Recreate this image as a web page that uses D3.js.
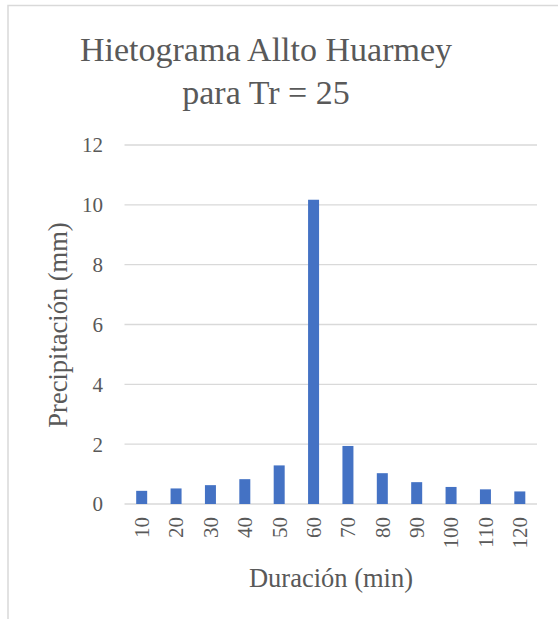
<!DOCTYPE html>
<html>
<head>
<meta charset="utf-8">
<script src="https://cdn.jsdelivr.net/npm/d3@7"></script>
<style>
  html, body { margin: 0; padding: 0; background: #ffffff; }
  svg { display: block; }
</style>
</head>
<body>
<svg id="chart" width="558" height="619"></svg>
<script>
// Hietograma: precipitation per 10-minute block
const duraciones = ["10", "20", "30", "40", "50", "60", "70", "80", "90", "100", "110", "120"];
const precipitacion = [0.44, 0.52, 0.63, 0.83, 1.29, 10.17, 1.94, 1.03, 0.73, 0.57, 0.49, 0.42];
const yTicks = [0, 2, 4, 6, 8, 10, 12];
const titleLines = ["Hietograma Allto Huarmey", "para Tr = 25"];
const xTitle = "Duración (min)";
const yTitle = "Precipitación (mm)";

const svg = d3.select("#chart");
const textColor = "#595959";
const serif = "Liberation Serif";

// chart frame (extends past the visible area on the right and bottom)
svg.append("rect")
  .attr("x", 8).attr("y", 5.5)
  .attr("width", 600).attr("height", 640)
  .attr("fill", "#ffffff")
  .attr("stroke", "#d9d9d9").attr("stroke-width", 1.5);

const plot = { left: 124.5, right: 537, top: 145, bottom: 504 };

const x = d3.scaleBand()
  .domain(duraciones)
  .range([plot.left, plot.right])
  .paddingInner(0.68)
  .paddingOuter(0.34);

const y = d3.scaleLinear()
  .domain([0, 12])
  .range([plot.bottom, plot.top]);

// gridlines
svg.append("g")
  .selectAll("line")
  .data(yTicks)
  .join("line")
  .attr("x1", plot.left).attr("x2", plot.right)
  .attr("y1", d => y(d)).attr("y2", d => y(d))
  .attr("stroke", "#d9d9d9").attr("stroke-width", 1.3);

// y tick labels
svg.append("g")
  .selectAll("text")
  .data(yTicks)
  .join("text")
  .attr("x", 103)
  .attr("y", d => y(d))
  .attr("dy", "0.35em")
  .attr("text-anchor", "end")
  .attr("font-family", serif)
  .attr("font-size", 21)
  .attr("fill", textColor)
  .text(d => d);

// bars
svg.append("g")
  .selectAll("rect")
  .data(precipitacion)
  .join("rect")
  .attr("x", (d, i) => x(duraciones[i]))
  .attr("width", x.bandwidth())
  .attr("y", d => y(d))
  .attr("height", d => y(0) - y(d))
  .attr("fill", "#4472c4");

// x tick labels, rotated
svg.append("g")
  .selectAll("text")
  .data(duraciones)
  .join("text")
  .attr("transform", d => `translate(${x(d) + x.bandwidth() / 2},517) rotate(-90)`)
  .attr("dy", "0.35em")
  .attr("text-anchor", "end")
  .attr("font-family", serif)
  .attr("font-size", 21)
  .attr("fill", textColor)
  .text(d => d);

// axis titles
svg.append("text")
  .attr("x", 331).attr("y", 587)
  .attr("text-anchor", "middle")
  .attr("font-family", serif)
  .attr("font-size", 26.5)
  .attr("fill", textColor)
  .text(xTitle);

svg.append("text")
  .attr("transform", "translate(67,325) rotate(-90)")
  .attr("text-anchor", "middle")
  .attr("font-family", serif)
  .attr("font-size", 26.5)
  .attr("fill", textColor)
  .text(yTitle);

// title
svg.append("text")
  .attr("text-anchor", "middle")
  .attr("font-family", serif)
  .attr("font-size", 34)
  .attr("fill", textColor)
  .selectAll("tspan")
  .data(titleLines)
  .join("tspan")
  .attr("x", 266)
  .attr("y", (d, i) => 61 + i * 43)
  .text(d => d);
</script>
</body>
</html>
